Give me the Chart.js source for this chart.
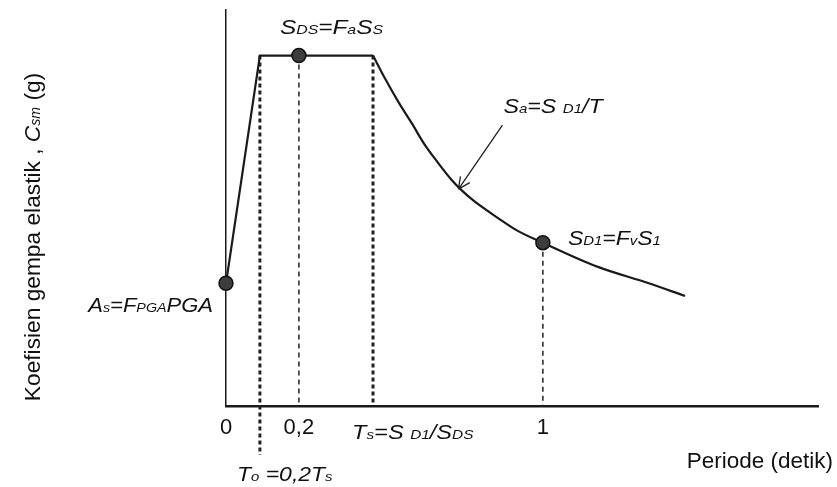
<!DOCTYPE html>
<html>
<head>
<meta charset="utf-8">
<script src="https://cdn.jsdelivr.net/npm/chart.js@4.4.0/dist/chart.umd.min.js"></script>
<style>
  html, body { margin: 0; padding: 0; background: #fff; }
  #wrap { width: 837px; height: 487px; }
</style>
</head>
<body>
<div id="wrap"><canvas id="spectrum" width="837" height="487"></canvas></div>
<script>
// Design response spectrum (schematic)
const risePeriods = [0, 0.093, 0.443];          // 0, To, Ts
const riseAccel = [0.35, 1.0, 1.0];              // As, SDS, SDS
const decayPeriods = [0.443, 0.482, 0.526, 0.57, 0.613, 0.657, 0.701, 0.733, 0.777, 0.852, 0.919, 1.0, 1.18, 1.344, 1.465];
const decayAccel = [1.0, 0.935, 0.868, 0.807, 0.745, 0.693, 0.645, 0.616, 0.583, 0.537, 0.499, 0.466, 0.397, 0.351, 0.314];
const keyPeriods = [0, 0.2, 1.0];                // As, SDS, SD1 markers
const keyAccel = [0.35, 1.0, 0.466];
const guidePeriods = [0.093, 0.2, 0.443, 1.0];   // To, 0.2, Ts, 1
const guideTops = [1.0, 1.0, 1.0, 0.466];
const guideBottoms = [-0.14, 0, 0, 0];
const tickValues = [0, 0.2, 1];
const tickLabels = ['0', '0,2', '1'];

const FAMILY = '"Liberation Sans", Arial, sans-serif';
const INK = '#1a1a1a';

// The drawing is not to scale: the x axis is stretched between 0 and 0.2
const breakValues = [0, 0.2, 1, 1.9];
const breakSpots = [0, 0.234, 1.017, 1.9];

function piecewise(v, from, to) {
  for (let i = 1; i < from.length; i++) {
    if (v <= from[i] || i === from.length - 1) {
      const t = (v - from[i - 1]) / (from[i] - from[i - 1]);
      return to[i - 1] + t * (to[i] - to[i - 1]);
    }
  }
  return v;
}

class BrokenLinearScale extends Chart.LinearScale {
  getPixelForValue(value) {
    return super.getPixelForValue(piecewise(value, breakValues, breakSpots));
  }
  getValueForPixel(pixel) {
    return piecewise(super.getValueForPixel(pixel), breakSpots, breakValues);
  }
}
BrokenLinearScale.id = 'brokenLinear';
BrokenLinearScale.defaults = Chart.LinearScale.defaults;
Chart.register(BrokenLinearScale);

const toPts = (xs, ys) => xs.map((x, i) => ({ x, y: ys[i] }));

// Rich text: "S_{DS}" -> S with small DS
function richParts(src, main, sub) {
  const parts = [];
  const re = /_\{([^}]*)\}/g;
  let last = 0, m;
  while ((m = re.exec(src))) {
    if (m.index > last) parts.push({ t: src.slice(last, m.index), size: main, italic: true });
    parts.push({ t: m[1], size: sub, italic: true });
    last = re.lastIndex;
  }
  if (last < src.length) parts.push({ t: src.slice(last), size: main, italic: true });
  return parts;
}

function drawParts(ctx, parts, x, y, align, stretch) {
  const font = (p) => `${p.italic ? 'italic ' : ''}${p.size}px ${FAMILY}`;
  let total = 0;
  parts.forEach((p) => { ctx.font = font(p); p.w = ctx.measureText(p.t).width; total += p.w; });
  ctx.save();
  ctx.translate(x, y);
  ctx.scale(stretch, 1);
  ctx.textAlign = 'left';
  ctx.textBaseline = 'alphabetic';
  let cx = align === 'right' ? -total : align === 'center' ? -total / 2 : 0;
  parts.forEach((p) => { ctx.font = font(p); ctx.fillText(p.t, cx, 0); cx += p.w; });
  ctx.restore();
}

const annotations = {
  id: 'annotations',
  beforeDraw(chart) {
    const { ctx, width, height } = chart;
    ctx.save();
    ctx.fillStyle = '#fff';
    ctx.fillRect(0, 0, width, height);
    ctx.restore();
  },
  afterDatasetsDraw(chart) {
    const { ctx, chartArea, scales: { x, y } } = chart;
    const px = (v) => x.getPixelForValue(v);
    const py = (v) => y.getPixelForValue(v);
    const M = 20, S = 13;
    ctx.save();
    ctx.fillStyle = '#111';

    drawParts(ctx, richParts('S_{DS}=F_{a}S_{S}', M, S), px(keyPeriods[1]) - 19, py(keyAccel[1]) - 22, 'left', 1.22);
    drawParts(ctx, richParts('A_{s}=F_{PGA}PGA', M, S), px(keyPeriods[0]) - 13, py(keyAccel[0]) + 29, 'right', 1.1);
    drawParts(ctx, richParts('S_{D1}=F_{v}S_{1}', M, S), px(keyPeriods[2]) + 25, py(keyAccel[2]) + 2, 'left', 1.15);
    drawParts(ctx, richParts('T_{s}=S _{D1}/S_{DS}', M, S), px(guidePeriods[2]) - 21, chartArea.bottom + 33, 'left', 1.18);
    drawParts(ctx, richParts('T_{o} =0,2T_{s}', M, S), px(guidePeriods[0]) - 23, chartArea.bottom + 75, 'left', 1.15);

    // arrow pointing at the decaying branch
    const tipX = px(decayPeriods[7]) - 3, tipY = py(decayAccel[7]) - 1;
    const tailX = tipX + 44, tailY = tipY - 64;
    drawParts(ctx, richParts('S_{a}=S _{D1}/T', M, S), tailX + 1, tailY - 12, 'left', 1.16);
    ctx.strokeStyle = '#222';
    ctx.lineWidth = 1.3;
    ctx.beginPath();
    ctx.moveTo(tailX, tailY);
    ctx.lineTo(tipX, tipY);
    const ang = Math.atan2(tipY - tailY, tipX - tailX);
    [0.45, -0.45].forEach((d) => {
      ctx.moveTo(tipX, tipY);
      ctx.lineTo(tipX - 13 * Math.cos(ang + d), tipY - 13 * Math.sin(ang + d));
    });
    ctx.stroke();

    // axis titles
    ctx.font = `22.5px ${FAMILY}`;
    ctx.textAlign = 'right';
    ctx.fillText('Periode (detik)', 833, 468);

    ctx.translate(39.5, 237);
    ctx.rotate(-Math.PI / 2);
    drawParts(ctx, [
      { t: 'Koefisien gempa elastik , ', size: 22.5, italic: false },
      { t: 'C', size: 22.5, italic: true },
      { t: 'sm', size: 14, italic: true },
      { t: ' (g)', size: 22.5, italic: false },
    ], 0, 0, 'center', 1.01);
    ctx.restore();
  },
};

const markers = {
  data: toPts(keyPeriods, keyAccel),
  showLine: false,
  pointRadius: 7,
  pointBackgroundColor: '#3d3d3d',
  pointBorderColor: '#111',
  pointBorderWidth: 1.5,
  clip: false,
};

const lineStyle = { borderColor: INK, borderWidth: 2.2, pointRadius: 0, fill: false, clip: false };

const guides = guidePeriods.map((t, i) => {
  const heavy = i === 0 || i === 2;
  return {
    data: [{ x: t, y: guideTops[i] }, { x: t, y: guideBottoms[i] }],
    borderColor: '#222',
    borderWidth: heavy ? 3 : 1.5,
    borderDash: heavy ? [4, 3] : [5, 4],
    pointRadius: 0,
    clip: false,
  };
});

new Chart(document.getElementById('spectrum'), {
  type: 'line',
  data: {
    datasets: [
      markers,
      { ...lineStyle, data: toPts(risePeriods, riseAccel), tension: 0 },
      { ...lineStyle, data: toPts(decayPeriods, decayAccel), cubicInterpolationMode: 'monotone' },
      ...guides,
    ],
  },
  options: {
    responsive: false,
    animation: false,
    events: [],
    devicePixelRatio: 1,
    layout: { padding: { left: 0, right: 19, top: 10, bottom: 0 } },
    scales: {
      x: {
        type: 'brokenLinear',
        min: 0,
        max: 1.9,
        afterFit: (s) => { s.height = 81; },
        afterBuildTicks: (s) => { s.ticks = tickValues.map((v) => ({ value: v })); },
        ticks: {
          autoSkip: false,
          maxRotation: 0,
          padding: 9,
          color: '#111',
          font: { family: FAMILY, size: 22 },
          callback: (v, i) => tickLabels[i],
        },
        grid: { display: false, drawTicks: false },
        border: { display: true, color: INK, width: 2.5 },
      },
      y: {
        min: 0,
        max: 1.13,
        afterFit: (s) => { s.width = 226; },
        ticks: { display: false },
        grid: { display: false, drawTicks: false },
        border: { display: true, color: INK, width: 1.5 },
      },
    },
    plugins: {
      legend: { display: false },
      tooltip: { enabled: false },
    },
  },
  plugins: [annotations],
});
</script>
</body>
</html>
